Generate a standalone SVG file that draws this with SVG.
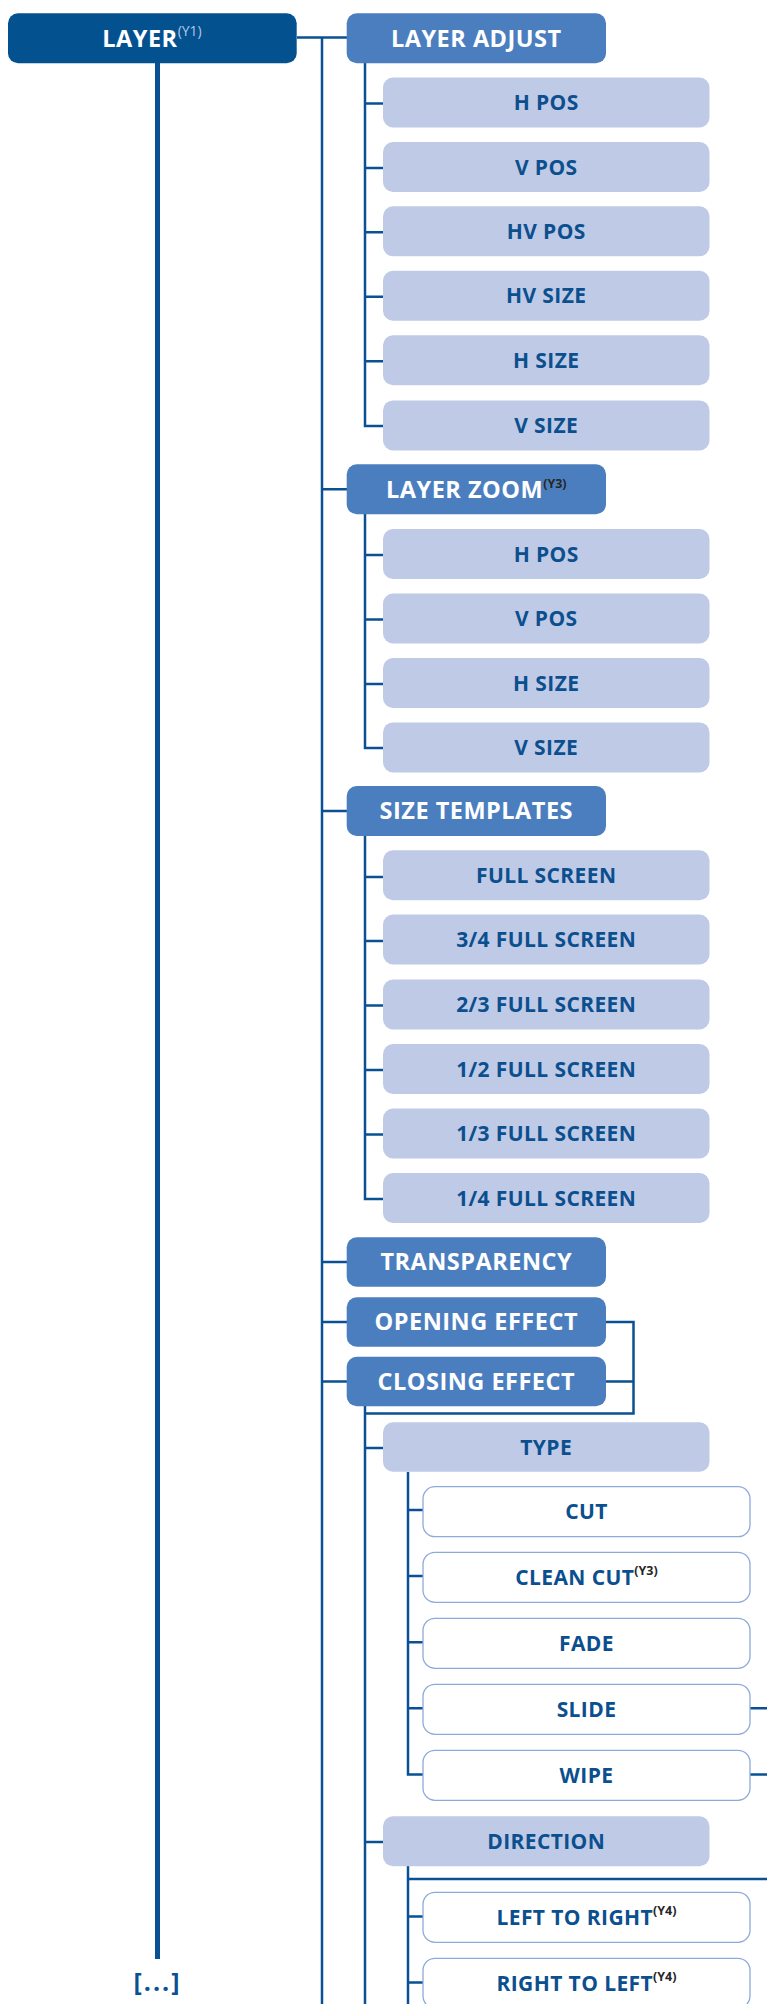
<svg xmlns="http://www.w3.org/2000/svg" width="767" height="2004" viewBox="0 0 767 2004">
<style>
.bg{fill:#ffffff}
.dk{fill:#03518f}
.md{fill:#4a7ebf}
.lt{fill:#bfcae6}
.wt{fill:#ffffff;stroke:#8eaadb;stroke-width:1.3}
.ln{stroke:#0a5193;stroke-width:2.5;fill:none}
.tk{stroke:#0a5193;stroke-width:5;fill:none}
text{font-family:"Open Sans","Liberation Sans",sans-serif;font-weight:700;text-anchor:middle}
.tw{fill:#ffffff;font-size:23.5px;letter-spacing:0.5px}
.tb{fill:#0b4f8f;font-size:21px;letter-spacing:0.4px}
.sl{fill:#b7c6e3;font-size:14px;font-weight:400;letter-spacing:0}
.sd{fill:#262626;font-size:12.5px;letter-spacing:0}
.dots{fill:#0a5193;font-size:25px;letter-spacing:2px}
</style>
<rect class="bg" x="0" y="0" width="767" height="2004"/>
<g id="connectors">
  <path class="tk" d="M157.5 63 V1959"/>
  <path class="ln" d="M297 37.5 H347"/>
  <path class="ln" d="M322 37.5 V2004"/>
  <path class="ln" d="M322 489.3 H347 M322 811 H347 M322 1262 H347 M322 1322 H347 M322 1381.5 H347"/>
  <path class="ln" d="M365 63 V426 H383 M365 103.5 H383 M365 168 H383 M365 232.3 H383 M365 296.8 H383 M365 361.2 H383"/>
  <path class="ln" d="M365 514 V748 H383 M365 555 H383 M365 619.5 H383 M365 684 H383"/>
  <path class="ln" d="M365 836 V1199 H383 M365 877 H383 M365 941 H383 M365 1005.5 H383 M365 1070 H383 M365 1134.5 H383"/>
  <path class="ln" d="M606 1322 H633.5 V1413.5 H365 M606 1381.5 H633.5"/>
  <path class="ln" d="M365 1406 V2004 M365 1448 H383 M365 1842 H383"/>
  <path class="ln" d="M408 1472 V1774.5 H423 M408 1510 H423 M408 1576 H423 M408 1642.3 H423 M408 1708.3 H423"/>
  <path class="ln" d="M750 1708.3 H767 M750 1774.5 H767"/>
  <path class="ln" d="M408 1866 V2004 M408 1879 H767 M408 1916.5 H423 M408 1982.5 H423"/>
</g>
<g id="layer"><rect class="dk" x="8" y="13.3" width="288.7" height="50" rx="10"/><text class="tw" x="152" y="46.8">LAYER<tspan class="sl" dy="-10.5">(Y1)</tspan></text></g>
<g id="layer-adjust"><rect class="md" x="346.7" y="13.3" width="259.3" height="50" rx="10"/><text class="tw" x="476.3" y="46.8">LAYER ADJUST</text></g>
<g id="la-hpos"><rect class="lt" x="383" y="77.5" width="326.5" height="50" rx="10"/><text class="tb" x="546.2" y="110">H POS</text></g>
<g id="la-vpos"><rect class="lt" x="383" y="142" width="326.5" height="50" rx="10"/><text class="tb" x="546.2" y="174.5">V POS</text></g>
<g id="la-hvpos"><rect class="lt" x="383" y="206.3" width="326.5" height="50" rx="10"/><text class="tb" x="546.2" y="238.8">HV POS</text></g>
<g id="la-hvsize"><rect class="lt" x="383" y="270.8" width="326.5" height="50" rx="10"/><text class="tb" x="546.2" y="303.3">HV SIZE</text></g>
<g id="la-hsize"><rect class="lt" x="383" y="335.2" width="326.5" height="50" rx="10"/><text class="tb" x="546.2" y="367.7">H SIZE</text></g>
<g id="la-vsize"><rect class="lt" x="383" y="400.4" width="326.5" height="50" rx="10"/><text class="tb" x="546.2" y="432.9">V SIZE</text></g>
<g id="layer-zoom"><rect class="md" x="346.7" y="464.3" width="259.3" height="50" rx="10"/><text class="tw" x="476.3" y="497.8">LAYER ZOOM<tspan class="sd" dy="-10">(Y3)</tspan></text></g>
<g id="lz-hpos"><rect class="lt" x="383" y="529" width="326.5" height="50" rx="10"/><text class="tb" x="546.2" y="561.5">H POS</text></g>
<g id="lz-vpos"><rect class="lt" x="383" y="593.5" width="326.5" height="50" rx="10"/><text class="tb" x="546.2" y="626">V POS</text></g>
<g id="lz-hsize"><rect class="lt" x="383" y="658" width="326.5" height="50" rx="10"/><text class="tb" x="546.2" y="690.5">H SIZE</text></g>
<g id="lz-vsize"><rect class="lt" x="383" y="722.4" width="326.5" height="50" rx="10"/><text class="tb" x="546.2" y="754.9">V SIZE</text></g>
<g id="size-templates"><rect class="md" x="346.7" y="786" width="259.3" height="50" rx="10"/><text class="tw" x="476.3" y="819.3">SIZE TEMPLATES</text></g>
<g id="st-full"><rect class="lt" x="383" y="850.2" width="326.5" height="50" rx="10"/><text class="tb" x="546.2" y="882.7">FULL SCREEN</text></g>
<g id="st-34"><rect class="lt" x="383" y="914.5" width="326.5" height="50" rx="10"/><text class="tb" x="546.2" y="947">3/4 FULL SCREEN</text></g>
<g id="st-23"><rect class="lt" x="383" y="979.5" width="326.5" height="50" rx="10"/><text class="tb" x="546.2" y="1012">2/3 FULL SCREEN</text></g>
<g id="st-12"><rect class="lt" x="383" y="1044" width="326.5" height="50" rx="10"/><text class="tb" x="546.2" y="1076.5">1/2 FULL SCREEN</text></g>
<g id="st-13"><rect class="lt" x="383" y="1108.5" width="326.5" height="50" rx="10"/><text class="tb" x="546.2" y="1141">1/3 FULL SCREEN</text></g>
<g id="st-14"><rect class="lt" x="383" y="1173" width="326.5" height="50" rx="10"/><text class="tb" x="546.2" y="1205.5">1/4 FULL SCREEN</text></g>
<g id="transparency"><rect class="md" x="346.7" y="1237.3" width="259.3" height="49.5" rx="10"/><text class="tw" x="476.3" y="1270.3">TRANSPARENCY</text></g>
<g id="opening-effect"><rect class="md" x="346.7" y="1297.3" width="259.3" height="49.5" rx="10"/><text class="tw" x="476.3" y="1330.3">OPENING EFFECT</text></g>
<g id="closing-effect"><rect class="md" x="346.7" y="1356.7" width="259.3" height="49.5" rx="10"/><text class="tw" x="476.3" y="1389.7">CLOSING EFFECT</text></g>
<g id="type"><rect class="lt" x="383" y="1422.3" width="326.5" height="49.5" rx="10"/><text class="tb" x="546.2" y="1454.5">TYPE</text></g>
<g id="cut"><rect class="wt" x="423" y="1486.7" width="327" height="50" rx="12"/><text class="tb" x="586.5" y="1519">CUT</text></g>
<g id="clean-cut"><rect class="wt" x="423" y="1552.3" width="327" height="50" rx="12"/><text class="tb" x="586.5" y="1584.6">CLEAN CUT<tspan class="sd" dy="-10">(Y3)</tspan></text></g>
<g id="fade"><rect class="wt" x="423" y="1618.3" width="327" height="50" rx="12"/><text class="tb" x="586.5" y="1650.6">FADE</text></g>
<g id="slide"><rect class="wt" x="423" y="1684.3" width="327" height="50" rx="12"/><text class="tb" x="586.5" y="1716.6">SLIDE</text></g>
<g id="wipe"><rect class="wt" x="423" y="1750.3" width="327" height="50" rx="12"/><text class="tb" x="586.5" y="1782.6">WIPE</text></g>
<g id="direction"><rect class="lt" x="383" y="1816.3" width="326.5" height="50" rx="10"/><text class="tb" x="546.2" y="1848.7">DIRECTION</text></g>
<g id="left-to-right"><rect class="wt" x="423" y="1892.3" width="327" height="50" rx="12"/><text class="tb" x="586.5" y="1924.6">LEFT TO RIGHT<tspan class="sd" dy="-10">(Y4)</tspan></text></g>
<g id="right-to-left"><rect class="wt" x="423" y="1958.3" width="327" height="50" rx="12"/><text class="tb" x="586.5" y="1990.6">RIGHT TO LEFT<tspan class="sd" dy="-10">(Y4)</tspan></text></g>
<g id="more"><text class="dots" x="157.5" y="1991">[...]</text></g>
</svg>
